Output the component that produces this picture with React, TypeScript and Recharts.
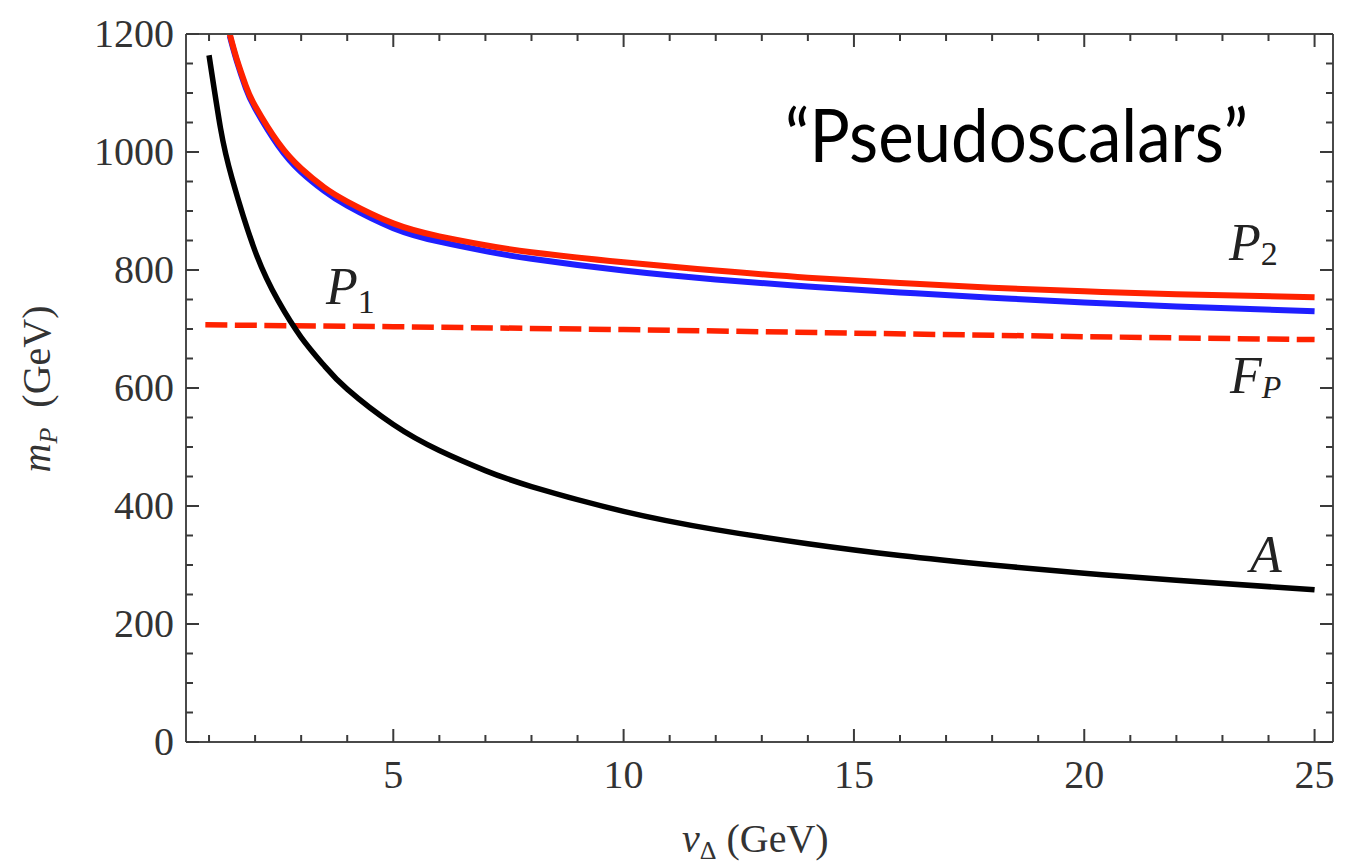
import React from 'react';
import { LineChart, Line, XAxis, YAxis, Customized } from 'recharts';

// ---- data ----
const vA = [1.0, 1.25, 1.5, 2, 2.5, 3, 3.5, 4, 5, 6, 7, 8, 10, 12, 14, 16, 18, 20, 22, 25];
const mA = [1164, 1040, 955, 832, 748, 686, 638, 598, 538, 494, 460, 433, 391, 360, 336, 316, 300, 286, 274, 258];

const vP2 = [1.45, 1.6, 1.8, 2, 2.5, 3, 3.5, 4, 5, 6, 7, 8, 10, 12, 14, 16, 18, 20, 22, 25];
const mP2red = [1200, 1158, 1112, 1078, 1016, 972, 940, 916, 879, 857, 842, 830, 813, 799, 787, 778, 770, 764, 759, 754];
const mP2blue = [1197, 1155, 1108, 1074, 1011, 966, 934, 909, 871, 848, 832, 819, 799, 784, 772, 762, 753, 745, 738, 730];

const vF = [0.92, 5, 10, 15, 20, 25];
const mF = [707, 704, 699, 693, 687, 682];

const xTicks = [1, 2, 3, 4, 5, 6, 7, 8, 9, 10, 11, 12, 13, 14, 15, 16, 17, 18, 19, 20, 21, 22, 23, 24, 25];
const xMajor = [5, 10, 15, 20, 25];
const yTicks = [0, 50, 100, 150, 200, 250, 300, 350, 400, 450, 500, 550, 600, 650, 700, 750, 800, 850, 900, 950, 1000, 1050, 1100, 1150, 1200];
const yMajor = [0, 200, 400, 600, 800, 1000, 1200];

const dataA = vA.map((v, i) => ({ v, m: mA[i] }));
const dataRed = vP2.map((v, i) => ({ v, m: mP2red[i] }));
const dataBlue = vP2.map((v, i) => ({ v, m: mP2blue[i] }));
const dataF = vF.map((v, i) => ({ v, m: mF[i] }));

const SERIF = '"Liberation Serif", "DejaVu Serif", serif';
const TICK_COLOR = '#3a3a3a';
const MAJOR = 13;
const MINOR = 7;

const BottomTick = (props: any) => {
  const { x, y, payload } = props;
  const major = xMajor.includes(payload.value);
  return (
    <g>
      <line x1={x} y1={y} x2={x} y2={y - (major ? MAJOR : MINOR)} stroke={TICK_COLOR} strokeWidth={2} />
      {major && (
        <text x={x} y={y + 46} textAnchor="middle" fontFamily={SERIF} fontSize={40} fill="#333">
          {payload.value}
        </text>
      )}
    </g>
  );
};

const TopTick = (props: any) => {
  const { x, y, payload } = props;
  const major = xMajor.includes(payload.value);
  return <line x1={x} y1={y} x2={x} y2={y + (major ? MAJOR : MINOR)} stroke={TICK_COLOR} strokeWidth={2} />;
};

const LeftTick = (props: any) => {
  const { x, y, payload } = props;
  const major = yMajor.includes(payload.value);
  return (
    <g>
      <line x1={x} y1={y} x2={x + (major ? MAJOR : MINOR)} y2={y} stroke={TICK_COLOR} strokeWidth={2} />
      {major && (
        <text x={x - 12} y={y + 13} textAnchor="end" fontFamily={SERIF} fontSize={40} fill="#333">
          {payload.value}
        </text>
      )}
    </g>
  );
};

const RightTick = (props: any) => {
  const { x, y, payload } = props;
  const major = yMajor.includes(payload.value);
  return <line x1={x} y1={y} x2={x - (major ? MAJOR : MINOR)} y2={y} stroke={TICK_COLOR} strokeWidth={2} />;
};

const Annotations = () => (
  <g>
    <text x={785} y={162} fontFamily="Lato, 'Open Sans', sans-serif" fontSize={74} fill="#000"
      textLength={463} lengthAdjust="spacingAndGlyphs">
      {'\u201CPseudoscalars\u201D'}
    </text>
    {/* curve labels */}
    <text x={326} y={304} fontFamily={SERIF} fontSize={52} fill="#222">
      <tspan fontStyle="italic">P</tspan>
      <tspan fontSize={34} dy={9}>1</tspan>
    </text>
    <text x={1229} y={260} fontFamily={SERIF} fontSize={52} fill="#222">
      <tspan fontStyle="italic">P</tspan>
      <tspan fontSize={34} dy={5}>2</tspan>
    </text>
    <text x={1230} y={393} fontFamily={SERIF} fontSize={52} fill="#222">
      <tspan fontStyle="italic">F</tspan>
      <tspan fontSize={32} fontStyle="italic" dy={5}>P</tspan>
    </text>
    <text x={1250} y={572} fontFamily={SERIF} fontSize={52} fill="#222" fontStyle="italic">A</text>
    {/* axis labels */}
    <text transform="translate(50,389) rotate(-90)" textAnchor="middle" fontFamily={SERIF} fontSize={40} fill="#333">
      <tspan fontStyle="italic">m</tspan>
      <tspan fontStyle="italic" fontSize={26} dy={7}>P</tspan>
      <tspan dy={-7}>{'\u2002(GeV)'}</tspan>
    </text>
    <text x={682} y={852} fontFamily={SERIF} fontSize={40} fill="#333">
      <tspan fontStyle="italic">v</tspan>
      <tspan fontSize={26} dy={7}>{'\u0394'}</tspan>
      <tspan dy={-7}>{' (GeV)'}</tspan>
    </text>
  </g>
);

const axisLineStyle = { stroke: '#4a4a4a', strokeWidth: 2 };

export default function App() {
  return (
    <div style={{ position: 'absolute', left: 0, top: 0, background: '#fff' }}>
      <LineChart width={1359} height={864} margin={{ top: 14, right: 6, bottom: 62, left: 86 }}>
        <XAxis xAxisId="b" type="number" dataKey="v" domain={[0.5, 25.4]} allowDataOverflow
          ticks={xTicks} interval={0} height={60} tickSize={0} tickMargin={0} tickLine={false}
          axisLine={axisLineStyle} tick={<BottomTick />} />
        <XAxis xAxisId="t" orientation="top" type="number" dataKey="v" domain={[0.5, 25.4]} allowDataOverflow
          ticks={xTicks} interval={0} height={20} tickSize={0} tickMargin={0} tickLine={false}
          axisLine={axisLineStyle} tick={<TopTick />} />
        <YAxis yAxisId="l" type="number" dataKey="m" domain={[0, 1200]} allowDataOverflow
          ticks={yTicks} interval={0} width={100} tickSize={0} tickMargin={0} tickLine={false}
          axisLine={axisLineStyle} tick={<LeftTick />} />
        <YAxis yAxisId="r" orientation="right" type="number" dataKey="m" domain={[0, 1200]} allowDataOverflow
          ticks={yTicks} interval={0} width={20} tickSize={0} tickMargin={0} tickLine={false}
          axisLine={axisLineStyle} tick={<RightTick />} />
        <Line xAxisId="b" yAxisId="l" data={dataF} dataKey="m" type="linear" stroke="#ff2200"
          strokeWidth={5.5} strokeDasharray="22 7.5" dot={false} isAnimationActive={false} />
        <Line xAxisId="b" yAxisId="l" data={dataBlue} dataKey="m" type="natural" stroke="#1f1fff"
          strokeWidth={6} dot={false} isAnimationActive={false} />
        <Line xAxisId="b" yAxisId="l" data={dataRed} dataKey="m" type="natural" stroke="#ff2200"
          strokeWidth={6} dot={false} isAnimationActive={false} />
        <Line xAxisId="b" yAxisId="l" data={dataA} dataKey="m" type="natural" stroke="#000"
          strokeWidth={5.5} dot={false} isAnimationActive={false} />
        <Customized component={Annotations} />
      </LineChart>
    </div>
  );
}
